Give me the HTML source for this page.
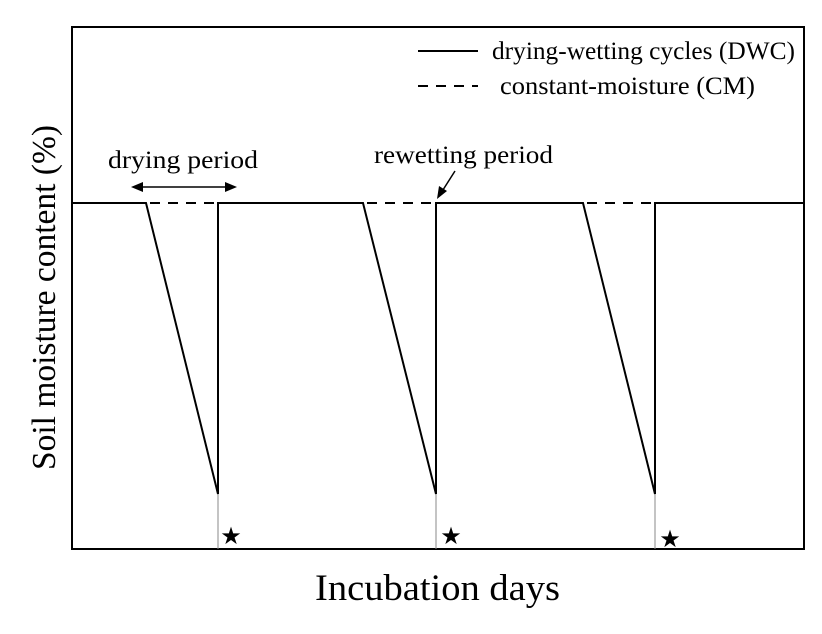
<!DOCTYPE html>
<html><head><style>body{margin:0;background:#fff}</style></head><body>
<svg width="822" height="629" xmlns="http://www.w3.org/2000/svg" font-family="Liberation Serif, serif">
<rect x="72" y="27" width="732" height="522" fill="none" stroke="#000" stroke-width="2"/>
<g stroke="#000" stroke-width="2" fill="none">
<polyline points="72,203 146,203 218,494 218,203 363,203 436,494 436,203 583,203 655,494 655,203 804,203"/>
<g stroke-dasharray="10,8"><line x1="150" y1="203" x2="216" y2="203"/><line x1="367" y1="203" x2="434" y2="203"/><line x1="587" y1="203" x2="653" y2="203"/></g>
<line x1="418" y1="51" x2="478" y2="51"/>
<line x1="418" y1="86" x2="478" y2="86" stroke-dasharray="10,8"/>
<line x1="138" y1="187" x2="230" y2="187" stroke-width="1.5"/>
<line x1="455" y1="171" x2="441" y2="193" stroke-width="1.5"/>
</g>
<g stroke="#888" stroke-width="1"><line x1="218" y1="494" x2="218" y2="549"/><line x1="436" y1="494" x2="436" y2="549"/><line x1="655" y1="494" x2="655" y2="549"/></g>
<polygon points="131,187 143,182 143,192"/><polygon points="237,187 225,182 225,192"/>
<polygon points="437,199 439,186 447,191"/>
<g font-size="25"><text x="492" y="59" textLength="303" lengthAdjust="spacingAndGlyphs">drying-wetting cycles (DWC)</text><text x="500" y="94" textLength="255" lengthAdjust="spacingAndGlyphs">constant-moisture (CM)</text>
<text x="108" y="168" textLength="150" lengthAdjust="spacingAndGlyphs">drying period</text><text x="374" y="163" textLength="179" lengthAdjust="spacingAndGlyphs">rewetting period</text></g>
<g font-size="24"><text x="231" y="544" text-anchor="middle">★</text><text x="451" y="544" text-anchor="middle">★</text><text x="670" y="547" text-anchor="middle">★</text></g>
<text x="315" y="600" font-size="37" textLength="245" lengthAdjust="spacingAndGlyphs">Incubation days</text>
<text transform="translate(55,470) rotate(-90)" font-size="34" textLength="345" lengthAdjust="spacingAndGlyphs">Soil moisture content (%)</text>
</svg>
</body></html>
